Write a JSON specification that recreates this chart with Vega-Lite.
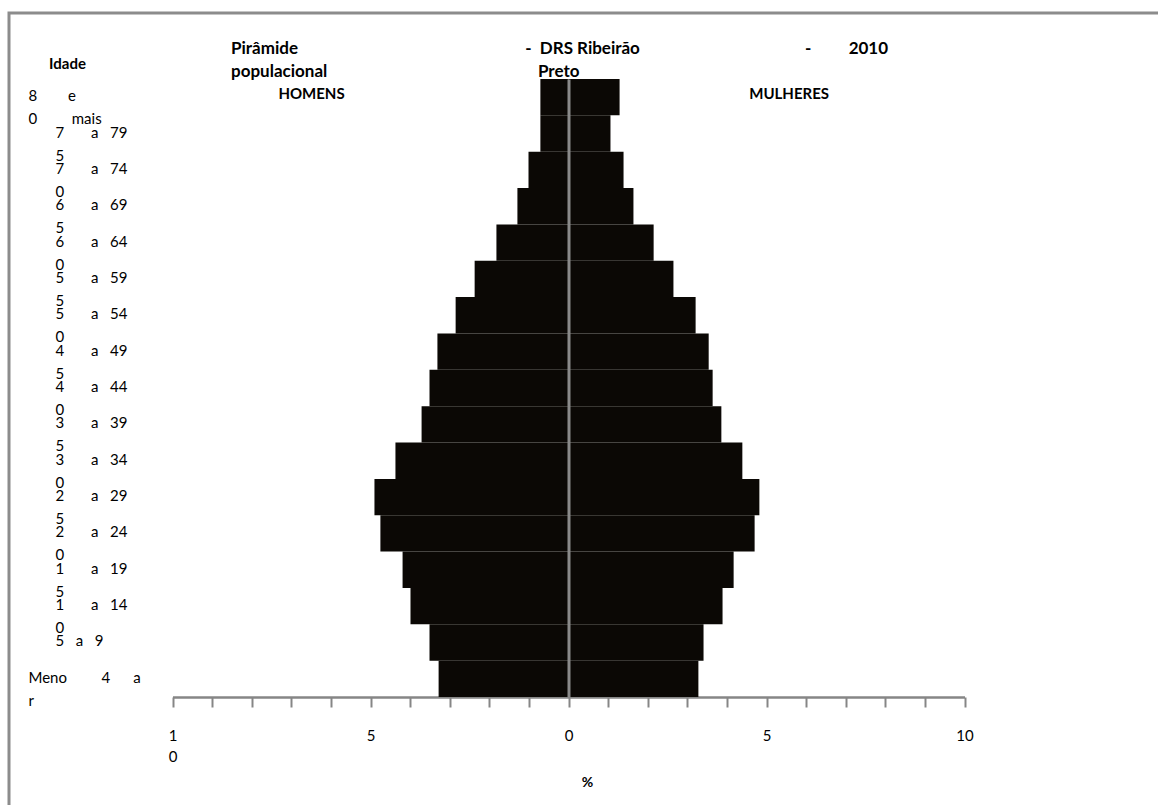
{
  "$schema": "https://vega.github.io/schema/vega-lite/v6.json",
  "autosize": {"type": "none"},
  "padding": {"left": 9, "top": 13, "right": -4, "bottom": -4},
  "width": 1153,
  "height": 796,
  "background": "white",
  "config": {
    "view": {"stroke": "#8c8c8c", "strokeWidth": 3},
    "font": "Lato"
  },
  "title": {
    "text": {"expr": "['Pirâmide' + pad('',55,'\u00a0') + '-' + pad('',2,'\u00a0') + 'DRS Ribeirão' + pad('',40,'\u00a0') + '-' + pad('',9,'\u00a0') + '2010', 'populacional' + pad('',51,'\u00a0') + 'Preto']"},
    "subtitle": {"expr": "'\u200b' + pad('',13,'\u00a0') + 'HOMENS' + pad('',111,'\u00a0') + 'MULHERES'"},
    "anchor": "start",
    "frame": "group",
    "dx": 222,
    "offset": -90,
    "font": "Lato",
    "fontSize": 17,
    "fontWeight": "bold",
    "lineHeight": 23,
    "color": "#000000",
    "subtitleFont": "Lato",
    "subtitleFontSize": 15,
    "subtitleFontWeight": "bold",
    "subtitleColor": "#000000",
    "subtitlePadding": 6
  },
  "data": {
    "values": [
      {"age": "80 e mais", "sexo": "Homens", "pct": -0.71},
      {"age": "80 e mais", "sexo": "Mulheres", "pct": 1.29},
      {"age": "75 a 79", "sexo": "Homens", "pct": -0.71},
      {"age": "75 a 79", "sexo": "Mulheres", "pct": 1.06},
      {"age": "70 a 74", "sexo": "Homens", "pct": -1.01},
      {"age": "70 a 74", "sexo": "Mulheres", "pct": 1.39},
      {"age": "65 a 69", "sexo": "Homens", "pct": -1.29},
      {"age": "65 a 69", "sexo": "Mulheres", "pct": 1.64},
      {"age": "60 a 64", "sexo": "Homens", "pct": -1.82},
      {"age": "60 a 64", "sexo": "Mulheres", "pct": 2.15},
      {"age": "55 a 59", "sexo": "Homens", "pct": -2.37},
      {"age": "55 a 59", "sexo": "Mulheres", "pct": 2.65},
      {"age": "50 a 54", "sexo": "Homens", "pct": -2.85},
      {"age": "50 a 54", "sexo": "Mulheres", "pct": 3.21},
      {"age": "45 a 49", "sexo": "Homens", "pct": -3.31},
      {"age": "45 a 49", "sexo": "Mulheres", "pct": 3.54},
      {"age": "40 a 44", "sexo": "Homens", "pct": -3.51},
      {"age": "40 a 44", "sexo": "Mulheres", "pct": 3.64},
      {"age": "35 a 39", "sexo": "Homens", "pct": -3.71},
      {"age": "35 a 39", "sexo": "Mulheres", "pct": 3.86},
      {"age": "30 a 34", "sexo": "Homens", "pct": -4.37},
      {"age": "30 a 34", "sexo": "Mulheres", "pct": 4.39},
      {"age": "25 a 29", "sexo": "Homens", "pct": -4.9},
      {"age": "25 a 29", "sexo": "Mulheres", "pct": 4.82},
      {"age": "20 a 24", "sexo": "Homens", "pct": -4.75},
      {"age": "20 a 24", "sexo": "Mulheres", "pct": 4.7},
      {"age": "15 a 19", "sexo": "Homens", "pct": -4.19},
      {"age": "15 a 19", "sexo": "Mulheres", "pct": 4.17},
      {"age": "10 a 14", "sexo": "Homens", "pct": -3.99},
      {"age": "10 a 14", "sexo": "Mulheres", "pct": 3.89},
      {"age": "5 a 9", "sexo": "Homens", "pct": -3.51},
      {"age": "5 a 9", "sexo": "Mulheres", "pct": 3.41},
      {"age": "Menor 4 a", "sexo": "Homens", "pct": -3.28},
      {"age": "Menor 4 a", "sexo": "Mulheres", "pct": 3.28}
    ]
  },
  "mark": {"type": "bar", "color": "#0b0805"},
  "encoding": {
    "y": {
      "field": "age",
      "type": "nominal",
      "sort": ["80 e mais","75 a 79","70 a 74","65 a 69","60 a 64","55 a 59","50 a 54","45 a 49","40 a 44","35 a 39","30 a 34","25 a 29","20 a 24","15 a 19","10 a 14","5 a 9","Menor 4 a"],
      "scale": {
        "domain": ["80 e mais","75 a 79","70 a 74","65 a 69","60 a 64","55 a 59","50 a 54","45 a 49","40 a 44","35 a 39","30 a 34","25 a 29","20 a 24","15 a 19","10 a 14","5 a 9","Menor 4 a"],
        "range": [66, 684],
        "paddingInner": 0,
        "paddingOuter": 0
      },
      "axis": {
        "offset": -559.5,
        "zindex": 1,
        "title": "Idade",
        "titleAngle": 0,
        "titleX": -501.5,
        "titleY": 50,
        "titleAlign": "center",
        "titleBaseline": "middle",
        "titleFont": "Lato",
        "titleFontSize": 15,
        "titleFontWeight": "bold",
        "titleColor": "#000000",
        "domain": true,
        "domainColor": "#8a8a8a",
        "domainWidth": 3,
        "ticks": false,
        "tickSize": 0,
        "grid": false,
        "labelAlign": "left",
        "labelBaseline": "alphabetic",
        "labelOffset": 4,
        "labelPadding": {"condition": {"test": "datum.value === '80 e mais' || datum.value === 'Menor 4 a'", "value": 540.5}, "value": 513.5},
        "labelFont": "Lato",
        "labelFontSize": 15,
        "labelColor": "#000000",
        "labelLineHeight": 23,
        "labelLimit": 0,
        "labelOverlap": false,
        "labelExpr": "datum.value === '80 e mais' ? ['8' + pad('',8,'\u00a0') + 'e', '0' + pad('',9,'\u00a0') + 'mais'] : datum.value === 'Menor 4 a' ? ['Meno' + pad('',9,'\u00a0') + '4' + pad('',6,'\u00a0') + 'a', 'r'] : datum.value === '5 a 9' ? '5' + pad('',3,'\u00a0') + 'a' + pad('',3,'\u00a0') + '9' : [substring(datum.value,0,1) + pad('',7,'\u00a0') + 'a' + pad('',3,'\u00a0') + substring(datum.value,5), substring(datum.value,1,2)]"
      }
    },
    "x": {
      "field": "pct",
      "type": "quantitative",
      "stack": null,
      "scale": {"domain": [-10, 10], "range": [163.5, 955.5], "nice": false, "zero": false},
      "axis": {
        "title": "%",
        "titleX": 578,
        "titleY": 85,
        "titleAlign": "center",
        "titleBaseline": "middle",
        "titleFont": "Lato",
        "titleFontSize": 14,
        "titleFontWeight": "bold",
        "titleColor": "#000000",
        "offset": -112,
        "values": [-10,-9,-8,-7,-6,-5,-4,-3,-2,-1,0,1,2,3,4,5,6,7,8,9,10],
        "grid": false,
        "domainColor": "#868686",
        "domainWidth": 2.5,
        "tickColor": "#868686",
        "tickWidth": 2,
        "tickSize": 10,
        "labelPadding": 21,
        "labelFont": "Lato",
        "labelFontSize": 15,
        "labelColor": "#000000",
        "labelLineHeight": 21,
        "labelFlush": false,
        "labelOverlap": false,
        "labelBaseline": "top",
        "labelExpr": "datum.value === -10 ? ['1','0'] : (datum.value % 5 === 0 ? '' + abs(datum.value) : '')"
      }
    }
  }
}
